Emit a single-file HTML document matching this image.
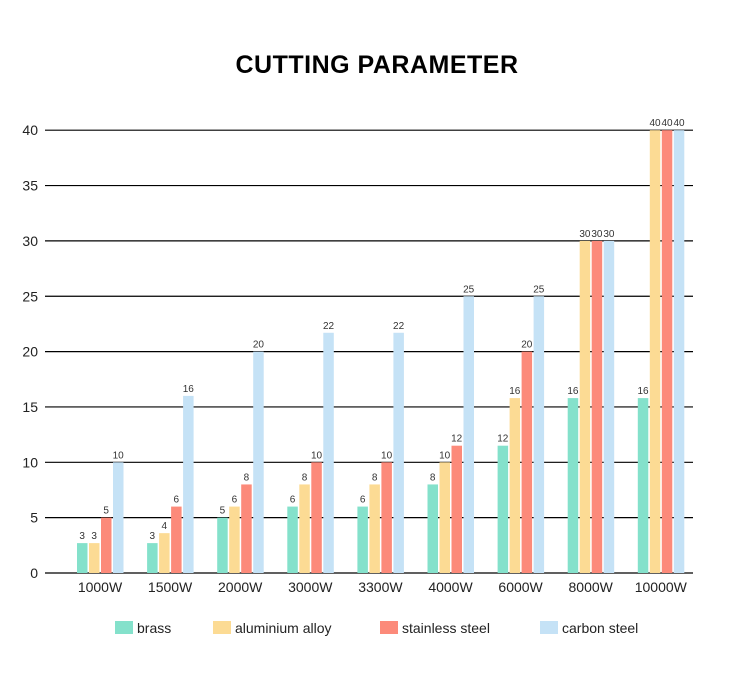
<!DOCTYPE html>
<html><head><meta charset="utf-8"><style>
body{margin:0;background:#fff;font-family:"Liberation Sans",sans-serif}
svg text{font-family:"Liberation Sans",sans-serif}
</style></head><body>
<svg width="750" height="678">
<text x="377" y="73" text-anchor="middle" font-size="25" font-weight="bold" letter-spacing="0.5" fill="#000">CUTTING PARAMETER</text>
<g id="grid"></g><g id="bars"></g><g id="legend"></g>
</svg>
<script>
const categories=["1000W","1500W","2000W","3000W","3300W","4000W","6000W","8000W","10000W"];
const seriesNames=["brass","aluminium alloy","stainless steel","carbon steel"];
const brass=[2.7,2.7,5,6,6,8,11.5,15.8,15.8];
const aluminium=[2.7,3.6,6,8,8,10,15.8,30,40];
const stainless=[5,6,8,10,10,11.5,20,30,40];
const carbon=[10,16,20,21.7,21.7,25,25,30,40];
const brassLabels=["3","3","5","6","6","8","12","16","16"];
const aluminiumLabels=["3","4","6","8","8","10","16","30","40"];
const stainlessLabels=["5","6","8","10","10","12","20","30","40"];
const carbonLabels=["10","16","20","22","22","25","25","30","40"];
const yTicks=[0,5,10,15,20,25,30,35,40];
const colors=["#84e1cb","#fcdb94","#fc8a7a","#c5e2f6"];
const NS="http://www.w3.org/2000/svg";
const y=v=>573-v*11.07;
const x=i=>77+i*70.1;
function mk(t,a,p){const e=document.createElementNS(NS,t);for(const k in a)e.setAttribute(k,a[k]);p.appendChild(e);return e;}
const grid=document.getElementById('grid');
yTicks.forEach(t=>{
 const l=mk('line',{x1:45,x2:693,y1:y(t),y2:y(t),stroke:'#000','stroke-width':1.2},grid);
 
 
 const tx=mk('text',{x:38,y:y(t)+5,'text-anchor':'end','font-size':14,fill:'#222'},grid);
 tx.textContent=t;
 
 
});
const bars=document.getElementById('bars');
const series=[brass,aluminium,stainless,carbon];
const labels=[brassLabels,aluminiumLabels,stainlessLabels,carbonLabels];
categories.forEach((c,i)=>{
 series.forEach((s,j)=>{
  const bx=x(i)+j*12;
  const r=mk('rect',{x:bx,y:y(s[i]),width:10.5,height:573-y(s[i]),fill:colors[j]},bars);
  
  
  const t=mk('text',{x:bx+5.2,y:y(s[i])-4,'text-anchor':'middle','font-size':10,fill:'#333'},bars);
  t.textContent=labels[j][i];
  
  
 });
 const t=mk('text',{x:x(i)+23,y:592,'text-anchor':'middle','font-size':14,fill:'#222'},bars);
 t.textContent=c;
 
 
});
const leg=document.getElementById('legend');
const lx=[115,213,380,540];
seriesNames.forEach((n,j)=>{
 const r=mk('rect',{x:lx[j],y:621,width:18,height:13,fill:colors[j]},leg);
 
 
 const t=mk('text',{x:lx[j]+22,y:633,'font-size':14,fill:'#222'},leg);
 t.textContent=n;
 
 
});
</script>
</body></html>
